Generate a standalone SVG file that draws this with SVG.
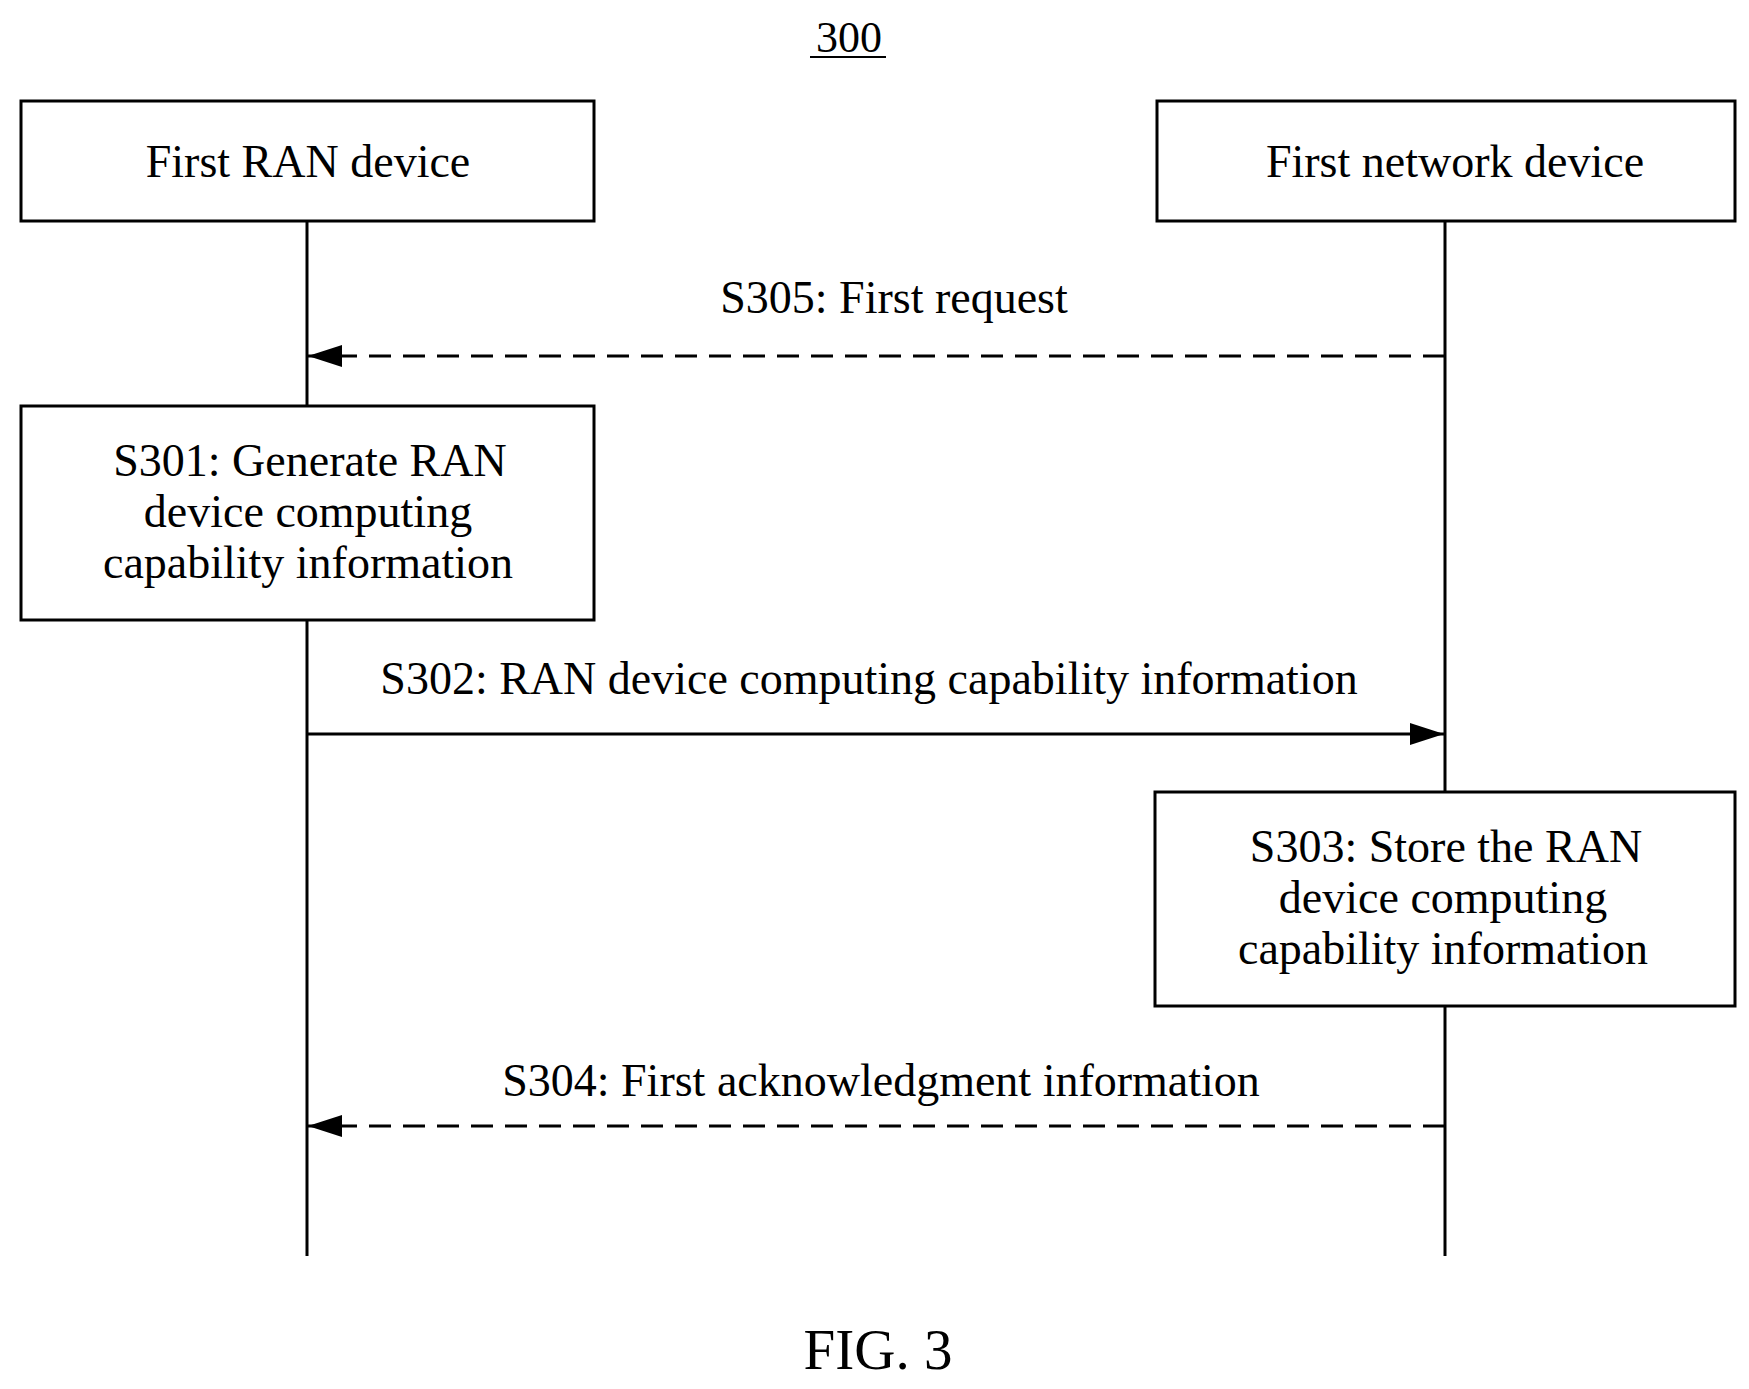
<svg xmlns="http://www.w3.org/2000/svg" width="1749" height="1389" viewBox="0 0 1749 1389">
<style>
text{font-family:"Liberation Serif","Times New Roman",serif;font-size:46px;fill:#000;text-anchor:middle}
.box{fill:#fff;stroke:#000;stroke-width:3}
.l{stroke:#000;stroke-width:3;fill:none}
.d{stroke-dasharray:22 12}
</style>
<defs>
<marker id="ah" markerWidth="34" markerHeight="22" refX="34" refY="11" orient="auto" markerUnits="userSpaceOnUse"><path d="M0,0L34,11L0,22z" fill="#000"/></marker></defs>
<text x="849" y="52" style="font-size:44px">300</text><line class="l" x1="810" y1="57" x2="886" y2="57" style="stroke-width:2"/>
<g id="connectors">
<line class="l" x1="307" y1="221" x2="307" y2="406"/>
<line class="l" x1="307" y1="620" x2="307" y2="1256"/>
<line class="l" x1="1445" y1="221" x2="1445" y2="792"/>
<line class="l" x1="1445" y1="1006" x2="1445" y2="1256"/>
<line class="l d" x1="1445" y1="356" x2="308" y2="356" marker-end="url(#ah)"/>
<text x="894" y="313">S305: First request</text>
<line class="l" x1="307" y1="734" x2="1444" y2="734" marker-end="url(#ah)"/>
<text x="869" y="694">S302: RAN device computing capability information</text>
<line class="l d" x1="1445" y1="1126" x2="308" y2="1126" marker-end="url(#ah)"/>
<text x="881" y="1096">S304: First acknowledgment information</text>
</g>
<g id="n1"><rect class="box" x="21" y="101" width="573" height="120"/><text x="308" y="177">First RAN device</text></g>
<g id="n2"><rect class="box" x="1157" y="101" width="578" height="120"/><text x="1455" y="177">First network device</text></g>
<g id="s301"><rect class="box" x="21" y="406" width="573" height="214"/><text x="310" y="476">S301: Generate RAN</text><text x="308" y="527">device computing</text><text x="308" y="578">capability information</text></g>
<g id="s303"><rect class="box" x="1155" y="792" width="580" height="214"/><text x="1446" y="862">S303: Store the RAN</text><text x="1443" y="913">device computing</text><text x="1443" y="964">capability information</text></g>
<text x="878" y="1369" style="font-size:57px">FIG. 3</text>
</svg>
